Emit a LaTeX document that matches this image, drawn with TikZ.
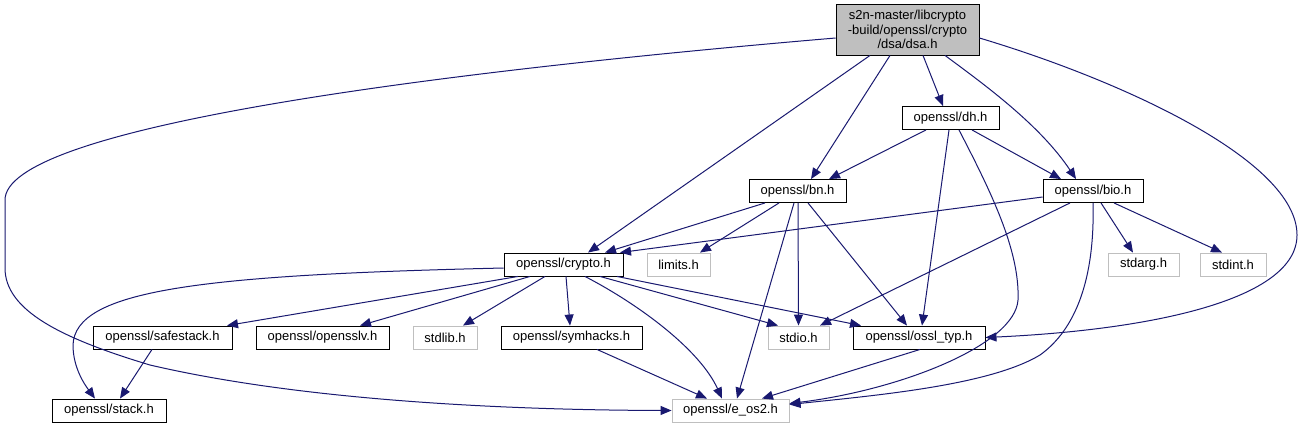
\documentclass[tikz,border=0pt]{standalone}
\usepackage{fontspec}
\setmainfont{Liberation Sans}
\usetikzlibrary{arrows.meta}
\definecolor{linkcol}{HTML}{191970}
\definecolor{ghost}{HTML}{BFBFBF}
\tikzset{
  box/.style={draw=black, fill=white, line width=0.9pt, minimum height=23pt, inner sep=0pt,
    font=\fontsize{13}{14.5}\selectfont},
  ext/.style={box, draw=ghost},
  link/.style={draw=linkcol, line width=1pt, -{Triangle[length=11pt,width=9pt]}}
}
\begin{document}
\begin{tikzpicture}[x=1pt,y=-1pt]
\fill[white] (0,0) rectangle (1305,429);
\useasboundingbox (0,0) rectangle (1305,429);

\node[box, fill=ghost, minimum width=143pt, minimum height=51pt, align=center] (dsa) at (907.5,29.5)
  {s2n-master/libcrypto\\-build/openssl/crypto\\/dsa/dsa.h};
\node[box, minimum width=97pt] (dh) at (950.5,118) {openssl/dh.h};
\node[box, minimum width=97pt] (bn) at (797.5,191) {openssl/bn.h};
\node[box, minimum width=100pt] (bio) at (1093,191) {openssl/bio.h};
\node[box, minimum width=119pt] (crypto) at (563.5,264.5) {openssl/crypto.h};
\node[ext, minimum width=63pt] (limits) at (678.5,264.5) {limits.h};
\node[ext, minimum width=71pt] (stdarg) at (1143.5,264.5) {stdarg.h};
\node[ext, minimum width=66pt] (stdint) at (1233,264.5) {stdint.h};
\node[box, minimum width=139pt] (safestack) at (162.5,337.5) {openssl/safestack.h};
\node[box, minimum width=133pt] (opensslv) at (322.5,337.5) {openssl/opensslv.h};
\node[ext, minimum width=64pt] (stdlib) at (445,337.5) {stdlib.h};
\node[box, minimum width=141pt] (symhacks) at (571.5,337.5) {openssl/symhacks.h};
\node[ext, minimum width=61pt] (stdio) at (798.5,337.5) {stdio.h};
\node[box, minimum width=132pt] (ossltyp) at (919,337.5) {openssl/ossl\_typ.h};
\node[box, minimum width=114pt] (stack) at (109,410.5) {openssl/stack.h};
\node[ext, minimum width=117pt] (eos2) at (730.5,410.5) {openssl/e\_os2.h};

% from dsa.h
\draw[link] ([yshift=-8.5pt]dsa.west) .. controls (400,75) and (5,130) .. (5,200) -- (5,268)
  .. controls (5,310) and (60,338) .. (150,365) .. controls (300,400) and (500,410) .. (eos2.west);
\draw[link] ([xshift=-37.5pt]dsa.south) -- ([xshift=24.5pt]crypto.north);
\draw[link] ([xshift=-17.5pt]dsa.south) -- ([xshift=13.5pt]bn.north);
\draw[link] ([xshift=15.5pt]dsa.south) -- ([xshift=-7.5pt]dh.north);
\draw[link] ([xshift=37.5pt]dsa.south) .. controls (985,85) and (1040,125) .. ([xshift=-17pt]bio.north);
\draw[link] ([yshift=-8.5pt]dsa.east) .. controls (1120,80) and (1297,160) .. (1297,235)
  .. controls (1297,300) and (1150,330) .. (ossltyp.east);

% from dh.h
\draw[link] ([xshift=-24.5pt]dh.south) -- ([xshift=31.5pt]bn.north);
\draw[link] ([xshift=21.5pt]dh.south) -- ([xshift=-32pt]bio.north);
\draw[link] ([xshift=-1.5pt]dh.south) -- ([xshift=3pt]ossltyp.north);
\draw[link] ([xshift=8.5pt]dh.south) .. controls (990,190) and (1020,250) .. (1018,300)
  .. controls (1015,345) and (900,390) .. ([yshift=7pt]eos2.east);

% from bn.h
\draw[link] ([xshift=-32.5pt]bn.south) -- ([xshift=41.5pt]crypto.north);
\draw[link] ([xshift=-18.5pt]bn.south) -- ([xshift=21.5pt]limits.north);
\draw[link] ([xshift=-3.5pt]bn.south) -- ([xshift=6.5pt]eos2.north);
\draw[link] ([xshift=0.5pt]bn.south) -- (stdio.north);
\draw[link] ([xshift=10.5pt]bn.south) -- ([xshift=-12pt]ossltyp.north);

% from bio.h
\draw[link] ([yshift=-6pt]bio.west) -- ([xshift=56.5pt]crypto.north);
\draw[link] ([xshift=-23pt]bio.south) -- ([xshift=21.5pt]stdio.north);
\draw[link] (bio.south) .. controls (1095,280) and (1075,330) .. (1040,355)
  .. controls (990,385) and (880,395) .. ([yshift=6pt]eos2.east);
\draw[link] ([xshift=8pt]bio.south) -- ([xshift=-10.5pt]stdarg.north);
\draw[link] ([xshift=21pt]bio.south) -- ([xshift=-11pt]stdint.north);

% from crypto.h
\draw[link] ([yshift=-3.5pt]crypto.west) .. controls (200,275) and (75,290) .. (73,345)
  .. controls (73,368) and (85,385) .. ([xshift=-14pt]stack.north);
\draw[link] ([xshift=-45.5pt]crypto.south) -- ([xshift=64.5pt]safestack.north);
\draw[link] ([xshift=-33.5pt]crypto.south) -- ([xshift=37.5pt]opensslv.north);
\draw[link] ([xshift=-18.5pt]crypto.south) -- ([xshift=18pt]stdlib.north);
\draw[link] ([xshift=2.5pt]crypto.south) -- ([xshift=-1.5pt]symhacks.north);
\draw[link] ([xshift=21.5pt]crypto.south) .. controls (640,305) and (700,350) .. ([xshift=-8.5pt]eos2.north);
\draw[link] ([xshift=36.5pt]crypto.south) -- ([xshift=-20.5pt]stdio.north);
\draw[link] ([xshift=53.5pt]crypto.south) -- ([xshift=-58pt]ossltyp.north);

% lower level
\draw[link] ([xshift=-10.5pt]safestack.south) -- ([xshift=11pt]stack.north);
\draw[link] ([xshift=25.5pt]symhacks.south) -- ([xshift=-23.5pt]eos2.north);
\draw[link] ([xshift=1pt]ossltyp.south) -- ([xshift=31.5pt]eos2.north);
\end{tikzpicture}
\end{document}
